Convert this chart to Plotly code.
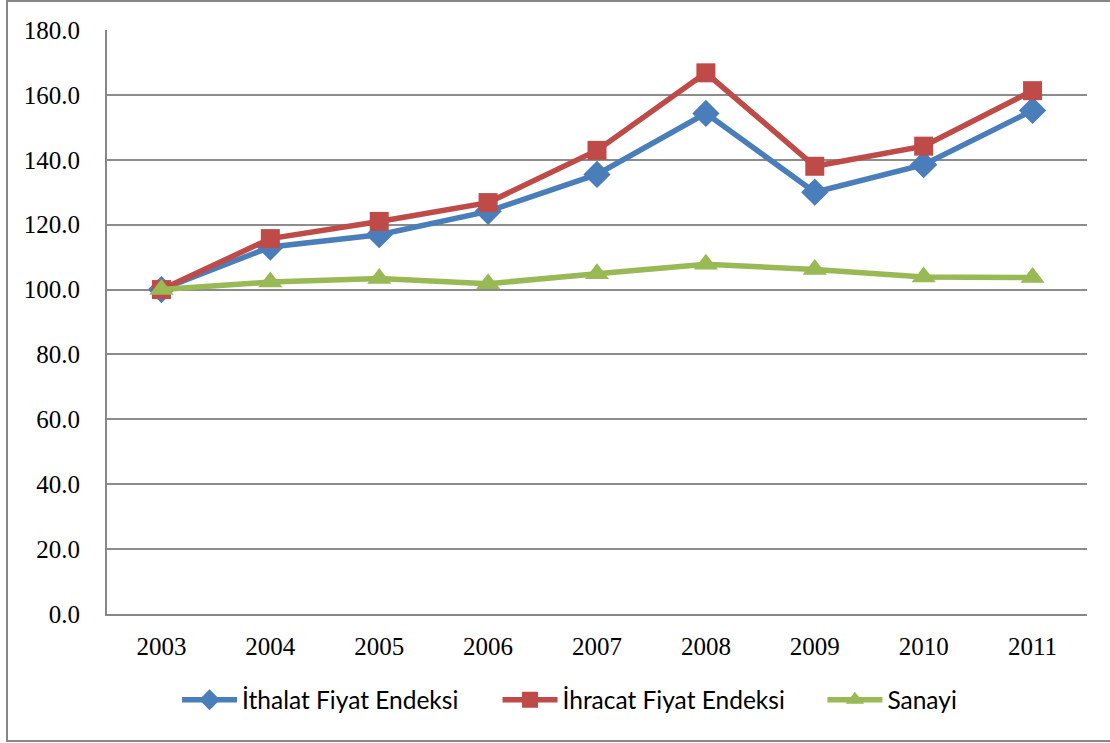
import plotly.graph_objects as go

years = ["2003", "2004", "2005", "2006", "2007", "2008", "2009", "2010", "2011"]
ithalat = [100.0, 113.1, 116.9, 124.1, 135.5, 154.3, 130.0, 138.5, 155.2]
ihracat = [100.0, 115.7, 121.0, 126.8, 142.9, 166.8, 138.0, 144.2, 161.3]
sanayi = [100.0, 102.3, 103.4, 101.8, 104.9, 107.8, 106.2, 103.9, 103.7]
names = ["İthalat Fiyat Endeksi", "İhracat Fiyat Endeksi", "Sanayi"]
yticks = [0, 20, 40, 60, 80, 100, 120, 140, 160, 180]

W, H = 1110, 743
L, R, T, B = 107, 23, 30, 129

fig = go.Figure()
specs = [
    (ithalat, names[0], "#4A7EBB", "diamond", 21, "legend", 0.0715),
    (ihracat, names[1], "#BE4B48", "square", 19, "legend2", 0.3985),
    (sanayi, names[2], "#98B954", "triangle-up", 21, "legend3", 0.730),
]
legfont = dict(family="Lato, Liberation Sans, sans-serif", size=24.5, color="black")
leg_layouts = {}
for vals, nm, col, sym, sz, lg, lx in specs:
    fig.add_trace(go.Scatter(
        x=years, y=vals, name=nm, mode="lines+markers",
        line=dict(color=col, width=5.5),
        marker=dict(symbol=sym, size=sz, color=col, line=dict(width=0)),
        legend=lg, showlegend=True,
    ))
    leg_layouts[lg] = dict(orientation="h", x=lx, xanchor="left", y=-0.147, yanchor="middle",
                           font=legfont, itemwidth=55, bgcolor="rgba(0,0,0,0)")

pw = W - L - R
ph = H - T - B
fig.add_shape(type="rect", xref="paper", yref="paper",
              x0=(7 - L) / pw, x1=(1120 - L) / pw,
              y0=(H - B - 741) / ph, y1=(H - B - 1) / ph,
              line=dict(color="#878787", width=2), fillcolor="rgba(0,0,0,0)", layer="below")

fig.update_layout(
    width=W, height=H,
    margin=dict(l=L, r=R, t=T, b=B, autoexpand=False),
    paper_bgcolor="white", plot_bgcolor="white",
    showlegend=True,
    **leg_layouts,
    xaxis=dict(type="category", range=[-0.5, 8.5], showgrid=False, showline=True,
               linecolor="#878787", linewidth=2, ticks="", zeroline=False,
               tickfont=dict(family="Liberation Serif, Times New Roman, serif", size=25, color="black"),
               ticklabelstandoff=9),
    yaxis=dict(range=[0, 180], tickvals=yticks, tickformat=".1f", showgrid=True,
               gridcolor="#8C8C8C", gridwidth=2, showline=True, linecolor="#878787", linewidth=2,
               ticks="", zeroline=False,
               tickfont=dict(family="Liberation Serif, Times New Roman, serif", size=25, color="black"),
               ticklabelstandoff=20),
)

fig.write_html("out.html", config={"displayModeBar": False},
               post_script="document.body.style.margin='0';document.body.style.overflow='hidden';")
